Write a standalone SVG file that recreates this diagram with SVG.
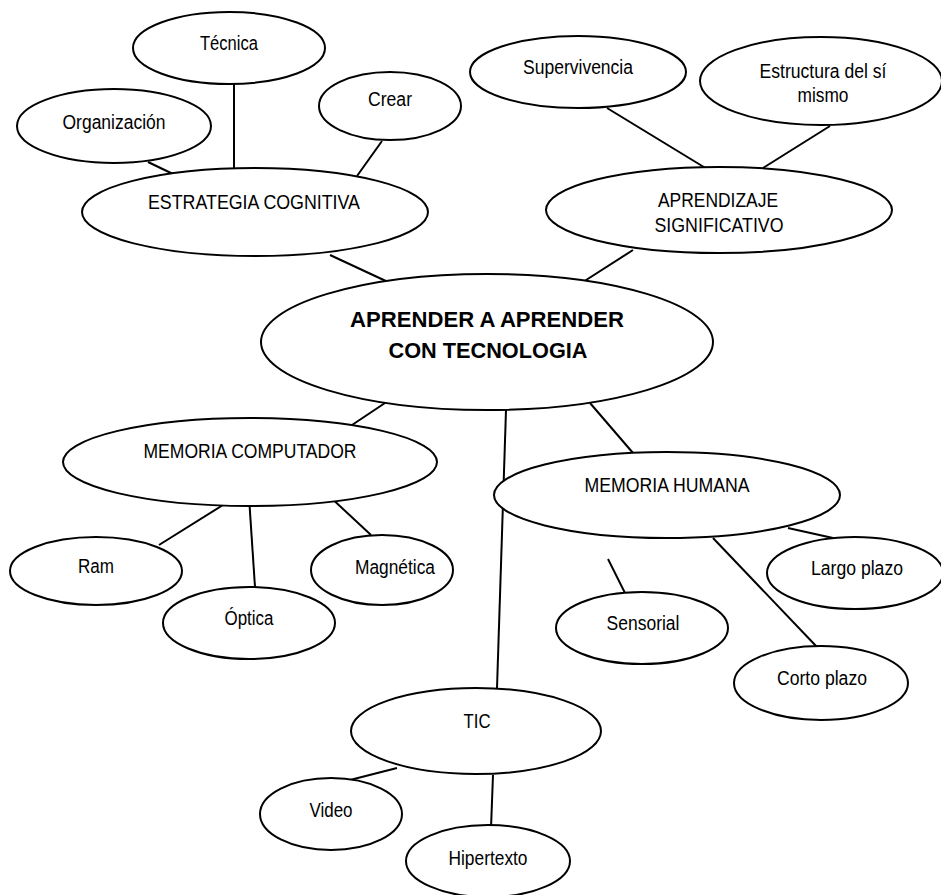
<svg xmlns="http://www.w3.org/2000/svg" width="941" height="895" viewBox="0 0 941 895">
<style>
ellipse{fill:#fff;stroke:#000;stroke-width:2}
line{stroke:#000;stroke-width:2}
text{font-family:"Liberation Sans",Arial,sans-serif;font-size:19.5px;fill:#000;text-anchor:middle}
text.main{font-size:22px;font-weight:bold}
</style>
<rect width="941" height="895" fill="#fff"/>
<g id="connectors">
<line x1="148" y1="162" x2="173" y2="174"/>
<line x1="234" y1="83" x2="234" y2="170"/>
<line x1="382" y1="141" x2="357" y2="176"/>
<line x1="330" y1="255" x2="388" y2="282"/>
<line x1="607" y1="108" x2="712" y2="172"/>
<line x1="830" y1="126" x2="763" y2="168"/>
<line x1="633" y1="250" x2="583" y2="282"/>
<line x1="385" y1="403" x2="352" y2="425"/>
<line x1="223" y1="505" x2="159" y2="545"/>
<line x1="249" y1="497" x2="255" y2="587"/>
<line x1="328" y1="495" x2="371" y2="535"/>
<line x1="590" y1="403" x2="633" y2="453"/>
<line x1="506" y1="410" x2="497" y2="688"/>
<line x1="788" y1="528" x2="833" y2="538"/>
<line x1="608" y1="559" x2="625" y2="593"/>
<line x1="713" y1="538" x2="817" y2="647"/>
<line x1="397" y1="768" x2="350" y2="780"/>
<line x1="493" y1="775" x2="491" y2="828"/>
</g>
<g id="tecnica"><ellipse cx="229" cy="48" rx="96" ry="36"/><text x="229" y="50" textLength="58" lengthAdjust="spacingAndGlyphs">Técnica</text></g>
<g id="organizacion"><ellipse cx="114" cy="126" rx="97" ry="37"/><text x="114" y="129" textLength="103" lengthAdjust="spacingAndGlyphs">Organización</text></g>
<g id="crear"><ellipse cx="390" cy="106" rx="71" ry="34"/><text x="390" y="106" textLength="44" lengthAdjust="spacingAndGlyphs">Crear</text></g>
<g id="estrategia"><ellipse cx="255" cy="212" rx="173" ry="44"/><text x="254" y="209" textLength="212" lengthAdjust="spacingAndGlyphs">ESTRATEGIA COGNITIVA</text></g>
<g id="supervivencia"><ellipse cx="578" cy="72" rx="108" ry="36"/><text x="578" y="74" textLength="110" lengthAdjust="spacingAndGlyphs">Supervivencia</text></g>
<g id="estructura"><ellipse cx="821" cy="81" rx="121" ry="44"/><text x="823" y="78" textLength="127" lengthAdjust="spacingAndGlyphs">Estructura del sí</text><text x="823" y="102" textLength="51" lengthAdjust="spacingAndGlyphs">mismo</text></g>
<g id="aprendizaje"><ellipse cx="719" cy="210" rx="173" ry="43"/><text x="718" y="207" textLength="120" lengthAdjust="spacingAndGlyphs">APRENDIZAJE</text><text x="719" y="232" textLength="129" lengthAdjust="spacingAndGlyphs">SIGNIFICATIVO</text></g>
<g id="central"><ellipse cx="487" cy="342" rx="226" ry="68"/><text class="main" x="487" y="327" textLength="274" lengthAdjust="spacingAndGlyphs">APRENDER A APRENDER</text><text class="main" x="488" y="358" textLength="199" lengthAdjust="spacingAndGlyphs">CON TECNOLOGIA</text></g>
<g id="memoria-computador"><ellipse cx="250" cy="462" rx="187" ry="44"/><text x="250" y="458" textLength="213" lengthAdjust="spacingAndGlyphs">MEMORIA COMPUTADOR</text></g>
<g id="ram"><ellipse cx="96" cy="571" rx="86" ry="34"/><text x="96" y="573" textLength="36" lengthAdjust="spacingAndGlyphs">Ram</text></g>
<g id="optica"><ellipse cx="249" cy="623" rx="86" ry="36"/><text x="249" y="625" textLength="49" lengthAdjust="spacingAndGlyphs">Óptica</text></g>
<g id="magnetica"><ellipse cx="382" cy="570" rx="71" ry="35"/><text x="395" y="574" textLength="80" lengthAdjust="spacingAndGlyphs">Magnética</text></g>
<g id="memoria-humana"><ellipse cx="667" cy="495" rx="173" ry="43"/><text x="667" y="492" textLength="165" lengthAdjust="spacingAndGlyphs">MEMORIA HUMANA</text></g>
<g id="largo-plazo"><ellipse cx="855" cy="573" rx="88" ry="36"/><text x="857" y="575" textLength="92" lengthAdjust="spacingAndGlyphs">Largo plazo</text></g>
<g id="sensorial"><ellipse cx="642" cy="628" rx="86" ry="36"/><text x="643" y="630" textLength="73" lengthAdjust="spacingAndGlyphs">Sensorial</text></g>
<g id="corto-plazo"><ellipse cx="821" cy="683" rx="87" ry="37"/><text x="822" y="685" textLength="90" lengthAdjust="spacingAndGlyphs">Corto plazo</text></g>
<g id="tic"><ellipse cx="476" cy="731" rx="125" ry="43"/><text x="477" y="728" textLength="27" lengthAdjust="spacingAndGlyphs">TIC</text></g>
<g id="video"><ellipse cx="331" cy="814" rx="71" ry="36"/><text x="331" y="817" textLength="43" lengthAdjust="spacingAndGlyphs">Video</text></g>
<g id="hipertexto"><ellipse cx="488" cy="861" rx="82" ry="36"/><text x="488" y="865" textLength="79" lengthAdjust="spacingAndGlyphs">Hipertexto</text></g>
</svg>
